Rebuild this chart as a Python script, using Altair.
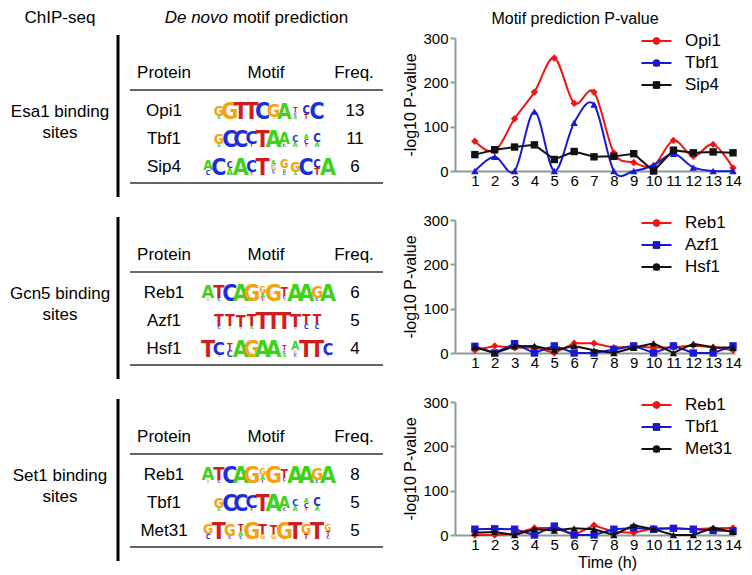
import re
import altair as alt
import pandas as pd

FONT = "Liberation Sans"
LOGO_FONT = "Liberation Sans Narrow, DejaVu Sans Condensed, Liberation Sans"
RED, BLUE, BLACK = "#f01414", "#1a1ad4", "#111111"
AXIS_GRAY = "#8e9a9a"

HOURS = list(range(1, 15))
Y_TICKS = [0, 100, 200, 300]

# ---- Motif prediction P-values (-log10) ----
ESA1_SERIES = ["Opi1", "Tbf1", "Sip4"]
ESA1_OPI1 = [67, 45, 118, 178, 255, 153, 178, 41, 19, 12, 69, 33, 60, 7]
ESA1_TBF1 = [0, 32, 0, 134, 0, 109, 150, 0, 0, 13, 39, 8, 0, 0]
ESA1_SIP4 = [37, 48, 54, 59, 26, 44, 32, 33, 39, 0, 47, 41, 43, 41]

GCN5_SERIES = ["Reb1", "Azf1", "Hsf1"]
GCN5_REB1 = [6, 16, 12, 13, 0, 22, 22, 12, 15, 12, 13, 17, 13, 6]
GCN5_AZF1 = [15, 0, 21, 0, 16, 0, 0, 8, 16, 0, 16, 0, 0, 16]
GCN5_HSF1 = [13, 0, 15, 16, 6, 16, 6, 0, 12, 22, 0, 21, 13, 12]

SET1_SERIES = ["Reb1", "Tbf1", "Met31"]
SET1_REB1 = [0, 0, 3, 16, 16, 0, 22, 7, 5, 15, 15, 13, 15, 16]
SET1_TBF1 = [13, 14, 13, 0, 20, 0, 0, 13, 16, 13, 15, 13, 10, 9]
SET1_MET31 = [5, 7, 0, 13, 10, 15, 13, 0, 22, 13, 0, 0, 16, 7]

# ---- Texts ----
COL_HEADERS = ["ChIP-seq", "De novo", "motif prediction"]
PANEL_TITLE = "Motif prediction P-value"
Y_TITLE = "-log10 P-value"
X_TITLE = "Time (h)"
TABLE_HEADERS = ["Protein", "Motif", "Freq."]
SECTION_LABELS = [["Esa1 binding", "sites"], ["Gcn5 binding", "sites"], ["Set1 binding", "sites"]]

ESA1_PROTEINS = ["Opi1", "Tbf1", "Sip4"]
ESA1_FREQ = [13, 11, 6]
GCN5_PROTEINS = ["Reb1", "Azf1", "Hsf1"]
GCN5_FREQ = [6, 5, 4]
SET1_PROTEINS = ["Reb1", "Tbf1", "Met31"]
SET1_FREQ = [8, 5, 5]

# ---- Motif logos: each position lists letters top->bottom with height in tenths ----
MOTIF_OPI1 = ["G6A2", "G10", "T10", "T10", "C10", "G8A1", "A9", "T3C2A2", "C5T3", "C10"]
MOTIF_TBF1 = ["G6A2", "C10", "C10", "C8T2", "T10", "A10", "A7C2", "C4A3", "A3C3T2", "C5A3"]
MOTIF_SIP4 = ["A6C3", "C10", "C4A4", "A10", "C7T2", "T10", "A3G3C2T1", "G5A2C2", "G6A2", "C10", "C5T4", "A10"]
MOTIF_REB1 = ["A8G1C1", "T8C2", "C10", "A10", "G10", "G4A3T2", "G10", "T5C2G1", "A10", "A10", "G7C2", "A10"]
MOTIF_AZF1 = ["T7C2", "T7C1A1", "T7C1", "T7A2", "T10", "T10", "T10", "T8C1", "T6C3", "T6C3"]
MOTIF_HSF1 = ["T10", "C8C1", "T4C4", "A10", "G10", "A10", "A10", "T3C2A2", "A5G2C2", "T10", "T10", "C7T1"]
MOTIF_MET31 = ["G6C3", "T10", "G7C2", "T4A3C2", "G10", "T6G3", "T5G3", "G10", "T10", "G6T3", "T10", "G4T3C2"]

LETTERS = ["A", "C", "G", "T"]
LETTER_COLORS = ["#3fd21a", "#1b2fd8", "#f5a20f", "#d01d1d"]
LINE_COLORS = [RED, BLUE, BLACK]


def letters_frame(motifs):
    recs = []
    for r, motif in enumerate(motifs, start=1):
        n = len(motif)
        for i, pos in enumerate(motif):
            stack = re.findall(r"([ACGT])(\d+)", pos)
            base = 0.0
            for letter, t in reversed(stack):
                h = int(t) / 10
                recs.append(dict(row=r, k=i - (n - 1) / 2, letter=letter, h=h, base=base))
                base += h
    return pd.DataFrame(recs)


def right_panel(series, values, point_shapes, smooth, first, last):
    recs = []
    for name, vals in zip(series, values):
        for t, v in zip(HOURS, vals):
            recs.append(dict(time=t, value=v, series=name, marker=name))
    df = pd.DataFrame(recs)

    common = dict(title=None, orient="none", legendX=193, legendY=-5.5, padding=0,
                  labelFont=FONT, labelFontSize=17, labelColor="black", labelOffset=20,
                  rowPadding=4, symbolSize=55, symbolStrokeWidth=2, symbolOpacity=1)
    line_legend = alt.Legend(symbolType="M-4.05,0H4.05", **common)
    mark_legend = alt.Legend(labelExpr="''", symbolStrokeColor="transparent", **common)

    x = alt.X(
        "time:Q", scale=alt.Scale(domain=[0, 14.1], nice=False, zero=False),
        axis=alt.Axis(values=HOURS, format="d", labelFontSize=15, labelFont=FONT, labelColor="black",
                      labelPadding=2, ticks=False, domainColor=AXIS_GRAY, domainWidth=2, grid=False,
                      labelFlush=False, labelOverlap=False,
                      title=X_TITLE if last else None, titleFont=FONT, titleFontSize=16,
                      titleFontWeight="normal", titleColor="black", titlePadding=2, titleX=152),
    )
    y = alt.Y(
        "value:Q", scale=alt.Scale(domain=[0, 300], nice=False),
        axis=alt.Axis(values=Y_TICKS, labelFontSize=15, labelFont=FONT, labelColor="black",
                      tickSize=5, tickColor=AXIS_GRAY, tickWidth=2, domainColor=AXIS_GRAY,
                      domainWidth=2, labelPadding=2, grid=False, title=Y_TITLE, titleFont=FONT,
                      titleFontSize=16, titleFontWeight="normal", titleColor="black", titlePadding=4),
    )
    color = alt.Color("series:N", scale=alt.Scale(domain=series, range=LINE_COLORS), legend=line_legend)
    fill = alt.Fill("marker:N", sort=series, scale=alt.Scale(range=LINE_COLORS), legend=mark_legend)
    shape = alt.Shape("marker:N", sort=series, scale=alt.Scale(range=point_shapes), legend=mark_legend)

    layers = []
    for name in series:
        interp = "cardinal" if name in smooth else "linear"
        layers.append(
            alt.Chart(df).transform_filter(alt.datum.series == name)
            .mark_line(strokeWidth=2, interpolate=interp)
            .encode(x=x, y=y, color=color)
        )
        layers.append(
            alt.Chart(df).transform_filter(alt.datum.series == name)
            .mark_point(filled=True, opacity=1, size=55, strokeWidth=0)
            .encode(x=x, y=y, fill=fill, shape=shape)
        )
    ch = alt.layer(*layers).properties(width=280, height=133)
    if first:
        ch = ch.properties(title=alt.TitleParams(PANEL_TITLE, font=FONT, fontSize=16, fontWeight="normal",
                                                 color="black", offset=4.5, dx=-20, anchor="middle"))
    return ch


def left_panel(i, proteins, freqs, motifs, with_headers):
    prot = pd.DataFrame({"row": [1, 2, 3], "protein": proteins, "freq": [str(f) for f in freqs]})
    letters = letters_frame(motifs)
    one = pd.DataFrame({"d": [0]})
    yrow = alt.Y("row:O", scale=alt.Scale(type="point", domain=[1, 2, 3], range=[73, 129], padding=0),
                 axis=None)
    txt = dict(font=FONT, fontSize=17, color="black", baseline="middle", align="center")

    layers = [
        alt.Chart(one).mark_rule(color="black", strokeWidth=3).encode(
            x=alt.value(109), y=alt.value(-3), y2=alt.value(159)),
        alt.Chart(one).mark_rule(color="#333333", strokeWidth=1.5).encode(
            x=alt.value(121), x2=alt.value(374), y=alt.value(52)),
        alt.Chart(one).mark_rule(color="#333333", strokeWidth=1.5).encode(
            x=alt.value(121), x2=alt.value(374), y=alt.value(145)),
        alt.Chart(one).mark_text(**txt).encode(x=alt.value(51), y=alt.value(74),
                                                text=alt.value(SECTION_LABELS[i][0])),
        alt.Chart(one).mark_text(**txt).encode(x=alt.value(51), y=alt.value(95),
                                                text=alt.value(SECTION_LABELS[i][1])),
        alt.Chart(one).mark_text(**txt).encode(x=alt.value(155), y=alt.value(35),
                                                text=alt.value(TABLE_HEADERS[0])),
        alt.Chart(one).mark_text(**txt).encode(x=alt.value(257), y=alt.value(35),
                                                text=alt.value(TABLE_HEADERS[1])),
        alt.Chart(one).mark_text(**txt).encode(x=alt.value(345), y=alt.value(35),
                                                text=alt.value(TABLE_HEADERS[2])),
        alt.Chart(prot).mark_text(**txt).encode(x=alt.value(155), y=yrow, text="protein:N"),
        alt.Chart(prot).mark_text(**txt).encode(x=alt.value(346), y=yrow, text="freq:N"),
        alt.Chart(letters).mark_text(font=LOGO_FONT, fontWeight="bold", baseline="alphabetic",
                                     align="center").encode(
            x=alt.X("k:Q", scale=alt.Scale(domain=[-5.5, 5.5], range=[199, 319]), axis=None),
            y=yrow,
            yOffset=alt.YOffset("base:Q", scale=alt.Scale(domain=[0, 1], range=[8, -8.8])),
            size=alt.Size("h:Q", scale=alt.Scale(domain=[0, 1], range=[0, 23]), legend=None),
            color=alt.Color("letter:N", scale=alt.Scale(domain=LETTERS, range=LETTER_COLORS),
                            legend=None),
            text="letter:N",
        ),
    ]
    if with_headers:
        layers += [
            alt.Chart(one).mark_text(**txt).encode(x=alt.value(51), y=alt.value(-20),
                                                    text=alt.value(COL_HEADERS[0])),
            alt.Chart(one).mark_text(font=FONT, fontSize=17, color="black", baseline="middle",
                                     align="right", fontStyle="italic").encode(
                x=alt.value(219), y=alt.value(-20), text=alt.value(COL_HEADERS[1])),
            alt.Chart(one).mark_text(font=FONT, fontSize=17, color="black", baseline="middle",
                                     align="left").encode(
                x=alt.value(224), y=alt.value(-20), text=alt.value(COL_HEADERS[2])),
        ]
    return alt.layer(*layers).properties(width=380, height=133)


lefts = [
    left_panel(0, ESA1_PROTEINS, ESA1_FREQ, [MOTIF_OPI1, MOTIF_TBF1, MOTIF_SIP4], True),
    left_panel(1, GCN5_PROTEINS, GCN5_FREQ, [MOTIF_REB1, MOTIF_AZF1, MOTIF_HSF1], False),
    left_panel(2, SET1_PROTEINS, SET1_FREQ, [MOTIF_REB1, MOTIF_TBF1, MOTIF_MET31], False),
]
rights = [
    right_panel(ESA1_SERIES, [ESA1_OPI1, ESA1_TBF1, ESA1_SIP4], ["diamond", "triangle-up", "square"],
                ["Opi1", "Tbf1"], True, False),
    right_panel(GCN5_SERIES, [GCN5_REB1, GCN5_AZF1, GCN5_HSF1], ["diamond", "square", "triangle-up"],
                [], False, False),
    right_panel(SET1_SERIES, [SET1_REB1, SET1_TBF1, SET1_MET31], ["diamond", "square", "triangle-up"],
                [], False, True),
]

RES = dict(color="independent", fill="independent", size="independent", shape="independent",
           x="independent", y="independent")
LRES = dict(color="independent", fill="independent", shape="independent", size="independent")
cells = []
for i in range(3):
    cells += [lefts[i], rights[i]]
chart = (
    alt.concat(*cells, columns=2, spacing={"row": 49, "column": 66}, bounds="flush")
    .resolve_scale(**RES)
    .resolve_legend(**LRES)
    .properties(padding=0)
    .configure(font=FONT)
    .configure_view(stroke="transparent")
)
chart.save("out.html", embed_options={"renderer": "svg", "actions": False})
